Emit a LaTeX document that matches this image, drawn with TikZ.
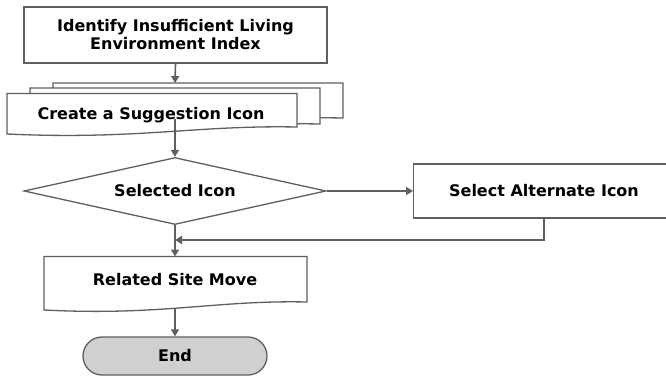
\documentclass[tikz,border=0pt]{standalone}
\usepackage{fontspec}
\setmainfont{DejaVu Sans}
\usetikzlibrary{arrows.meta,shapes.geometric,shapes.misc}
\definecolor{edge}{HTML}{5F5F5F}
\definecolor{endfill}{HTML}{D0D0D0}
\tikzset{
  outline/.style={draw=edge, line width=1.3pt, fill=white},
  label/.style={font=\bfseries\fontsize{16}{18.5}\selectfont, text=black, align=center},
  flow/.style={draw=edge, line width=1.6pt, -{Triangle[length=7pt,width=8pt]}},
}
% document sheet with a wavy lower edge: left, right, top, lower-left y, lower-right y
\newcommand{\docsheet}[5]{%
  \path[outline] (#1,#3) -- (#2,#3) -- (#2,#5)
    .. controls ({#2-0.35*(#2-#1)},{#5-2}) and ({#1+0.45*(#2-#1)},{#4+6}) .. (#1,#4) -- cycle;}
\begin{document}
\begin{tikzpicture}[x=1pt,y=-1pt]
\useasboundingbox (0,0) rectangle (666,375);

% first step
\node[outline, minimum width=303pt, minimum height=56pt, inner sep=0pt] (ident) at (175.5,35) {};
\node[label] at (175.5,34.5) {Identify Insufficient Living\\Environment Index};

% stacked suggestion sheets
\docsheet{53}{343}{83}{124}{118}
\docsheet{30}{320}{88}{130}{124}
\docsheet{7}{297}{93.5}{134}{127}
\coordinate (sugtop) at (175,83);
\coordinate (sugout) at (175,119);
\node[label] (sug) at (151,115) {Create a Suggestion Icon};

% decision
\node[outline, diamond, aspect=4.5, minimum width=302pt, minimum height=67pt, inner sep=0pt] (sel) at (175,191) {};
\node[label] at (sel.center) {Selected Icon};

\node[outline, minimum width=260pt, minimum height=54pt, inner sep=0pt, anchor=west] (alt) at (413,191) {};
\node[label] at (544,191) {Select Alternate Icon};

% related site
\docsheet{44}{307}{256.5}{310}{302}
\coordinate (reltop) at (175,256.5);
\coordinate (relout) at (175,308);
\node[label] (rel) at (175,280) {Related Site Move};

% terminal
\node[outline, fill=endfill, rounded rectangle, minimum width=184pt, minimum height=38pt, inner sep=0pt] (endn) at (175,356) {};
\node[label] at (endn.center) {End};

% connectors
\coordinate (join) at (175,240);
\draw[flow] (ident.south) -- (sugtop);
\draw[flow] (sugout) -- (sel.north);
\draw[flow] (sel.east) -- (alt.west);
\draw[flow] (sel.south) -- (reltop);
\draw[flow] (alt.south -| 544,0) -- (544,240) -- (join);
\draw[flow] (relout) -- (endn.north);
\end{tikzpicture}
\end{document}
